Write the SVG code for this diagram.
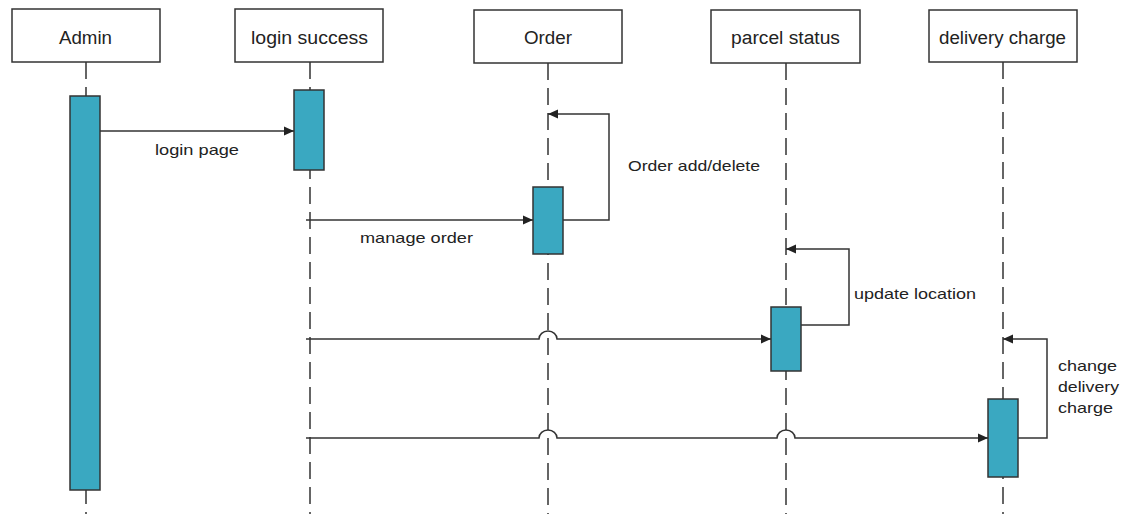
<svg xmlns="http://www.w3.org/2000/svg" width="1136" height="514" viewBox="0 0 1136 514">
<defs>
<style>
.box{fill:#fff;stroke:#333;stroke-width:1.5}
.life{stroke:#333;stroke-width:1.5;stroke-dasharray:17 8;fill:none}
.act{fill:#3aa8c1;stroke:#333;stroke-width:1.5}
.msg{fill:none;stroke:#333;stroke-width:1.5}
.hd{font-family:"Liberation Sans",Arial,sans-serif;font-size:18px;fill:#222}
.lb{font-family:"Liberation Sans",Arial,sans-serif;font-size:15px;fill:#222}
</style>
<marker id="ah" markerUnits="userSpaceOnUse" markerWidth="12" markerHeight="10" refX="10" refY="5" orient="auto">
<path d="M0,0.5 L10,5 L0,9.5 Z" fill="#222"/>
</marker>
</defs>
<rect width="1136" height="514" fill="#fff"/>
<g id="admin">
<rect class="box" x="12" y="9" width="148" height="53"/>
<line class="life" x1="86" y1="62" x2="86" y2="514"/>
<rect class="act" x="70" y="96" width="30" height="394"/>
<text class="hd" x="59" y="44" textLength="53" lengthAdjust="spacingAndGlyphs">Admin</text>
</g>
<g id="login-success">
<rect class="box" x="235" y="9" width="148" height="53"/>
<line class="life" x1="310" y1="62" x2="310" y2="514"/>
<rect class="act" x="294" y="90" width="30" height="80"/>
<text class="hd" x="251" y="44" textLength="117" lengthAdjust="spacingAndGlyphs">login success</text>
</g>
<g id="order">
<rect class="box" x="474" y="10" width="148" height="53"/>
<line class="life" x1="548" y1="63" x2="548" y2="514"/>
<rect class="act" x="533" y="187" width="30" height="67"/>
<text class="hd" x="524" y="44" textLength="48" lengthAdjust="spacingAndGlyphs">Order</text>
</g>
<g id="parcel-status">
<rect class="box" x="711" y="10" width="149" height="53"/>
<line class="life" x1="786" y1="63" x2="786" y2="514"/>
<rect class="act" x="771" y="307" width="30" height="64"/>
<text class="hd" x="731" y="44" textLength="109" lengthAdjust="spacingAndGlyphs">parcel status</text>
</g>
<g id="delivery-charge">
<rect class="box" x="929" y="10" width="148" height="52"/>
<line class="life" x1="1003" y1="62" x2="1003" y2="514"/>
<rect class="act" x="988" y="399" width="30" height="78"/>
<text class="hd" x="939" y="44" textLength="127" lengthAdjust="spacingAndGlyphs">delivery charge</text>
</g>
<g id="connectors">
<path class="msg" d="M100,131 H294" marker-end="url(#ah)"/>
<path class="msg" d="M306,220 H533" marker-end="url(#ah)"/>
<path class="msg" d="M563,220 H609 V114 H548" marker-end="url(#ah)"/>
<path class="msg" d="M801,325 H849 V249 H786" marker-end="url(#ah)"/>
<path class="msg" d="M306,339 H539 A9,8 0 0 1 557,339 H771" marker-end="url(#ah)"/>
<path class="msg" d="M1018,438 H1047 V339 H1003" marker-end="url(#ah)"/>
<path class="msg" d="M306,438 H539 A9,8 0 0 1 557,438 H777 A9,8 0 0 1 795,438 H988" marker-end="url(#ah)"/>
</g>
<g id="labels">
<text class="lb" x="155" y="155" textLength="84" lengthAdjust="spacingAndGlyphs">login page</text>
<text class="lb" x="360" y="243" textLength="113" lengthAdjust="spacingAndGlyphs">manage order</text>
<text class="lb" x="628" y="171" textLength="132" lengthAdjust="spacingAndGlyphs">Order add/delete</text>
<text class="lb" x="854" y="299" textLength="122" lengthAdjust="spacingAndGlyphs">update location</text>
<text class="lb" x="1058" y="371" textLength="59" lengthAdjust="spacingAndGlyphs">change</text>
<text class="lb" x="1058" y="392" textLength="61" lengthAdjust="spacingAndGlyphs">delivery</text>
<text class="lb" x="1058" y="413" textLength="55" lengthAdjust="spacingAndGlyphs">charge</text>
</g>
</svg>
